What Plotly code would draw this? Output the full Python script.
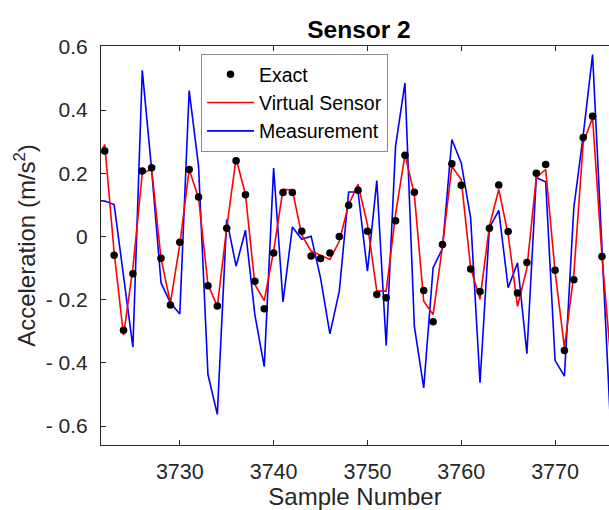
import plotly.graph_objects as go

# Sample numbers
samples_line = list(range(3721, 3777))
samples_exact = list(range(3722, 3776))

exact = [0.271, -0.059, -0.297, -0.118, 0.207, 0.218, -0.069, -0.217, -0.018, 0.212,
         0.125, -0.156, -0.220, 0.026, 0.240, 0.132, -0.142, -0.229, -0.052, 0.139,
         0.139, 0.017, -0.062, -0.070, -0.052, 0.000, 0.099, 0.146, 0.017, -0.184,
         -0.194, 0.050, 0.257, 0.140, -0.171, -0.270, -0.025, 0.230, 0.162, -0.103,
         -0.174, 0.026, 0.163, 0.016, -0.179, -0.082, 0.200, 0.228, -0.107, -0.361,
         -0.137, 0.313, 0.381, -0.063]

virtual = [0.23, 0.291, -0.05, -0.312, -0.10, 0.201, 0.212, -0.07, -0.210, -0.025,
           0.212, 0.122, -0.152, -0.221, 0.027, 0.247, 0.133, -0.152, -0.203, -0.046,
           0.149, 0.147, 0.005, -0.046, -0.059, -0.073, -0.015, 0.101, 0.165, 0.038,
           -0.173, -0.173, 0.070, 0.259, 0.133, -0.205, -0.247, -0.03, 0.222, 0.180,
           -0.099, -0.199, 0.033, 0.149, 0.006, -0.221, -0.10, 0.186, 0.212, -0.110,
           -0.352, -0.120, 0.296, 0.376, -0.062, -0.41]

measurement = [0.115, 0.112, 0.101, -0.12, -0.350, 0.526, 0.21, -0.147, -0.210, -0.245,
               0.462, 0.222, -0.437, -0.563, 0.054, -0.094, 0.020, -0.247, -0.412, 0.217,
               -0.207, 0.030, -0.009, 0.001, -0.131, -0.308, -0.173, 0.141, 0.141, -0.110,
               0.177, -0.345, 0.286, 0.486, -0.284, -0.479, -0.099, -0.038, 0.307, 0.233,
               0.059, -0.463, 0.027, 0.083, -0.162, -0.083, -0.371, 0.186, 0.173, -0.392,
               -0.442, 0.091, 0.32, 0.576, -0.06, -0.65]

x_ticks = [3730, 3740, 3750, 3760, 3770]
y_ticks = [-0.6, -0.4, -0.2, 0, 0.2, 0.4, 0.6]
y_tick_labels = ["- 0.6", "- 0.4", "- 0.2", "0", "0.2", "0.4", "0.6"]

FONT = "Liberation Sans, Arial, sans-serif"
AX = "#262626"

fig = go.Figure()
fig.add_trace(go.Scatter(x=samples_line, y=measurement, mode="lines", name="Measurement",
                         line=dict(color="#0000FF", width=1.6), legendrank=3))
fig.add_trace(go.Scatter(x=samples_line, y=virtual, mode="lines", name="Virtual Sensor",
                         line=dict(color="#FF0000", width=1.6), legendrank=2))
fig.add_trace(go.Scatter(x=samples_exact, y=exact, mode="markers", name="Exact",
                         marker=dict(color="black", size=7.5), legendrank=1))

fig.update_layout(
    width=609, height=510,
    margin=dict(l=101, r=0, t=46, b=65),
    paper_bgcolor="white", plot_bgcolor="white",
    font=dict(family=FONT, color=AX, size=21),
    title=dict(text="<b>Sensor 2</b>", x=359 / 609, xanchor="center",
               y=1 - 29 / 510, yanchor="middle", yref="container", xref="container",
               font=dict(size=24.5, color="black", family=FONT)),
    showlegend=True,
    legend=dict(x=(201 - 101) / 508, y=(445 - 54) / 399, xanchor="left", yanchor="top",
                bordercolor="#8c8c8c", borderwidth=1, bgcolor="white",
                font=dict(size=19.5, color="black", family=FONT),
                traceorder="normal", itemwidth=47),
    xaxis=dict(range=[3721.6, 3775.75], tickvals=x_ticks, ticks="inside", ticklen=5,
               tickcolor=AX, showline=True, linecolor=AX, linewidth=1, mirror="ticks",
               showgrid=False, zeroline=False, tickfont=dict(size=21.5, color=AX),
               ticklabelstandoff=7,
               title=dict(text="Sample Number", font=dict(size=24, color=AX), standoff=10)),
    yaxis=dict(range=[-0.66, 0.603], tickvals=y_ticks, ticktext=y_tick_labels,
               ticks="inside", ticklen=5, tickcolor=AX, showline=True, linecolor=AX,
               linewidth=1, mirror=False, showgrid=False, zeroline=False,
               tickfont=dict(size=21, color=AX), ticklabelstandoff=8,
               title=dict(text="Acceleration (m/s<sup>2</sup>)", font=dict(size=24, color=AX),
                          standoff=3)),
)

fig.write_html("out.html")
